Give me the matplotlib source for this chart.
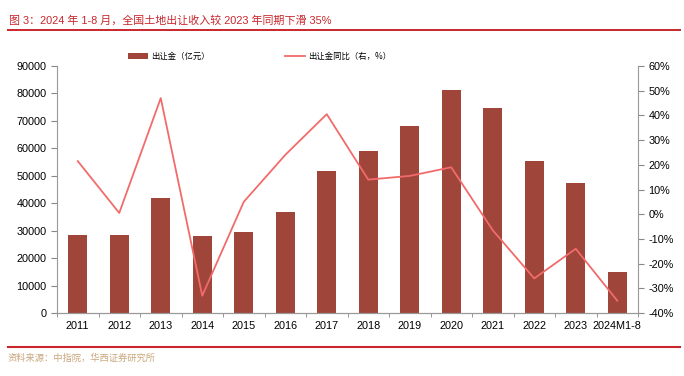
import numpy as np
import matplotlib
matplotlib.use('Agg')
import matplotlib.pyplot as plt
from matplotlib.ticker import FuncFormatter, MultipleLocator

plt.rcParams['font.family'] = ['Liberation Sans', 'Noto Sans CJK SC']

years = ['2011', '2012', '2013', '2014', '2015', '2016', '2017', '2018', '2019',
         '2020', '2021', '2022', '2023', '2024M1-8']
revenue = [28500, 28500, 42000, 28200, 29500, 36800, 51700, 59000, 68100,
           81300, 74700, 55400, 47400, 14900]
yoy = [21.5, 0.5, 47.0, -33.0, 5.0, 24.0, 40.5, 14.0, 15.5,
       19.0, -6.5, -26.0, -14.0, -35.0]

bar_color = '#A0453A'
line_color = '#F26B6B'
red = '#C8262C'

fig = plt.figure(figsize=(6.84, 3.76), dpi=100)
ax = fig.add_axes([57 / 684, 1 - 313 / 376, (638 - 57) / 684, (313 - 66) / 376])
ax2 = ax.twinx()

x = np.arange(len(years))
b = ax.bar(x, revenue, width=0.45, color=bar_color, label='出让金（亿元）', zorder=2)
l, = ax2.plot(x, yoy, color=line_color, lw=1.3, label='出让金同比（右，%）', zorder=3)

ax.set_xlim(-0.5, len(years) - 0.5)
ax.set_ylim(0, 90000)
ax.yaxis.set_major_locator(MultipleLocator(10000))
ax2.set_ylim(-40, 60)
ax2.yaxis.set_major_locator(MultipleLocator(10))
ax2.yaxis.set_major_formatter(FuncFormatter(lambda v, p: '%d%%' % v))

ax.set_xticks(x)
ax.set_xticklabels(years)
ax.set_xticks(np.arange(-0.5, len(years), 1), minor=True)
ax.tick_params(axis='x', which='major', length=0, labelsize=7.8, pad=6)
ax.tick_params(axis='x', which='minor', length=3, color='#888888', direction='out')
ax.tick_params(axis='y', length=4, color='#888888', labelsize=7.8)
ax2.tick_params(axis='y', length=4, color='#888888', labelsize=7.8)

for a in (ax, ax2):
    a.spines['top'].set_visible(False)
    for s in ('left', 'right', 'bottom'):
        a.spines[s].set_color('#999999')
        a.spines[s].set_linewidth(0.8)
ax.spines['right'].set_visible(False)
ax2.spines['left'].set_visible(False)
ax2.set_zorder(ax.get_zorder() + 1)
ax2.patch.set_visible(False)

fig.legend(handles=[b, l], loc='center left', bbox_to_anchor=(128 / 684, 1 - 56 / 376),
           ncol=2, frameon=False, handlelength=2.4, columnspacing=9,
           handletextpad=0.4, borderpad=0, borderaxespad=0,
           prop={'family': ['Noto Sans CJK SC'], 'size': 6})

fig.text(9 / 684, 1 - 21 / 376, '图 3：2024 年 1-8 月，全国土地出让收入较 2023 年同期下滑 35%',
         color=red, fontsize=7.9, va='center', ha='left')
fig.add_artist(plt.Line2D([8 / 684, 680 / 684], [1 - 30 / 376, 1 - 30 / 376],
                          color=red, lw=1.4))
fig.add_artist(plt.Line2D([8 / 684, 680 / 684], [1 - 347 / 376, 1 - 347 / 376],
                          color=red, lw=1.5))
fig.text(8 / 684, 1 - 358 / 376, '资料来源：中指院，华西证券研究所',
         color='#C9A77C', fontsize=6.7, va='center', ha='left',
         family=['Noto Sans CJK SC'])

fig.savefig('out.png', dpi=100)
